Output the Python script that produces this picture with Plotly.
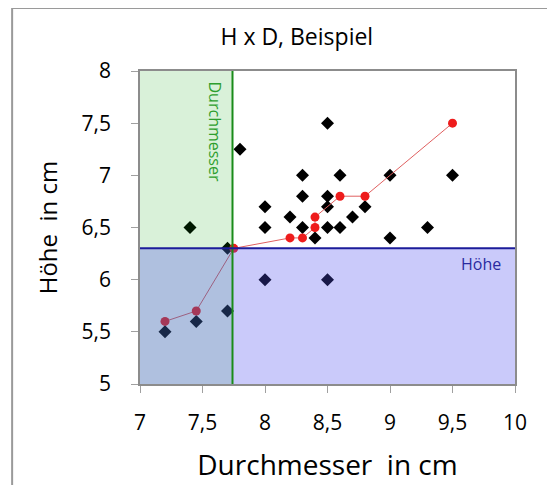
import plotly.graph_objects as go

# Messwerte (schwarze Rauten)
durchmesser = [7.2, 7.45, 7.7, 7.7, 7.4, 7.8, 8.0, 8.0, 8.0, 8.2, 8.3, 8.3, 8.3, 8.4,
               8.5, 8.5, 8.5, 8.5, 8.5, 8.6, 8.6, 8.7, 8.8, 9.0, 9.0, 9.3, 9.5]
hoehe = [5.5, 5.6, 5.7, 6.3, 6.5, 7.25, 6.7, 6.5, 6.0, 6.6, 7.0, 6.8, 6.5, 6.4,
         7.5, 6.8, 6.7, 6.5, 6.0, 7.0, 6.5, 6.6, 6.7, 7.0, 6.4, 6.5, 7.0]

# rote Linie
linie_d = [7.2, 7.45, 7.75, 8.2, 8.3, 8.4, 8.4, 8.6, 8.8, 9.5]
linie_h = [5.6, 5.7, 6.3, 6.4, 6.4, 6.5, 6.6, 6.8, 6.8, 7.5]

# Grenzen
grenze_d = 7.74
grenze_h = 6.3

x_ticks = [7, 7.5, 8, 8.5, 9, 9.5, 10]
y_ticks = [5, 5.5, 6, 6.5, 7, 7.5, 8]

FONT = "Open Sans, Liberation Sans, sans-serif"

fig = go.Figure()
fig.add_trace(go.Scatter(
    x=durchmesser, y=hoehe, mode="markers",
    marker=dict(symbol="diamond", size=10, color="black"),
    showlegend=False,
))
fig.add_trace(go.Scatter(
    x=linie_d, y=linie_h, mode="lines+markers",
    line=dict(color="#e06060", width=1),
    marker=dict(symbol="circle", size=9, color="#ee1c1c"),
    showlegend=False,
))

# halbtransparente Flächen über den Punkten
fig.add_shape(type="rect", xref="x", yref="y", x0=7, x1=grenze_d, y0=5, y1=8,
              fillcolor="rgb(0,160,0)", opacity=0.15, line_width=0, layer="above")
fig.add_shape(type="rect", xref="x", yref="y", x0=7, x1=10, y0=5, y1=grenze_h,
              fillcolor="rgb(80,80,240)", opacity=0.3, line_width=0, layer="above")
fig.add_shape(type="line", xref="x", yref="y", x0=grenze_d, x1=grenze_d, y0=5, y1=8,
              line=dict(color="#1a8c1a", width=2), layer="above")
fig.add_shape(type="line", xref="x", yref="y", x0=7, x1=10, y0=grenze_h, y1=grenze_h,
              line=dict(color="#1c1c9a", width=2), layer="above")

# äußerer Rahmen (nur links und oben sichtbar)
fig.add_shape(type="line", xref="paper", yref="paper", x0=-0.341, x1=-0.341, y0=-0.4, y1=1.201,
              line=dict(color="#9a9a9a", width=2), layer="below")
fig.add_shape(type="line", xref="paper", yref="paper", x0=-0.341, x1=1.12, y0=1.201, y1=1.201,
              line=dict(color="#9a9a9a", width=2), layer="below")

fig.add_annotation(x=7.6, y=7.42, text="Durchmesser", textangle=90, showarrow=False,
                   font=dict(family=FONT, size=16, color="#2e9e2e"))
fig.add_annotation(x=9.73, y=6.15, text="Höhe", showarrow=False,
                   font=dict(family=FONT, size=16, color="#2a2aa0"))

axis_common = dict(
    showline=True, linecolor="#8c8c8c", linewidth=1.5, mirror=True,
    ticks="outside", ticklen=7, tickcolor="#a0a0a0",
    showgrid=False, zeroline=False, automargin=False,
    tickfont=dict(family=FONT, size=21, color="black"),
)

# Seite hat 8px Rand, daher Figur etwas kleiner
fig.update_layout(
    width=547, height=477,
    margin=dict(l=132, r=40, t=63, b=101),
    paper_bgcolor="white", plot_bgcolor="white",
    separators=",.",
    title=dict(text="H x D, Beispiel", x=0.528, xanchor="center", y=0.939, yanchor="middle",
               font=dict(family=FONT, size=23, color="black")),
    xaxis=dict(range=[7, 10], tickvals=x_ticks, ticklabelstandoff=12,
               title=dict(text="Durchmesser  in cm", standoff=20,
                          font=dict(family=FONT, size=28, color="black")),
               **axis_common),
    yaxis=dict(range=[5, 8], tickvals=y_ticks, ticklabelstandoff=16,
               title=dict(text="Höhe  in cm", standoff=17,
                          font=dict(family=FONT, size=24, color="black")),
               **axis_common),
)

fig.write_html("out.html")
